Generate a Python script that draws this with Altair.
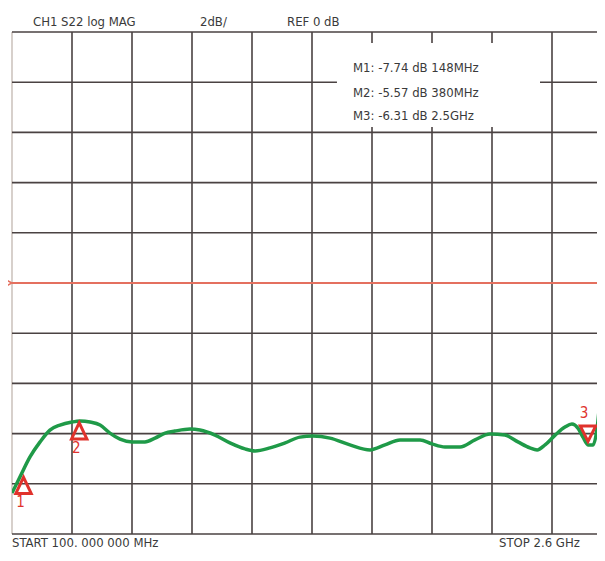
import altair as alt
import pandas as pd

# ---- data ----
freq_mhz = [100, 133, 175, 217, 258, 300, 350, 383, 425, 467, 508, 550, 600, 654, 696,
            738, 779, 842, 883, 946, 1008, 1071, 1113, 1175, 1238, 1300, 1354, 1425,
            1508, 1592, 1654, 1717, 1800, 1850, 1904, 1967, 2029, 2092, 2154, 2208,
            2258, 2288, 2321, 2363, 2404, 2433, 2458, 2479, 2500, 2521, 2538, 2550,
            2563, 2579]
s22_db = [-8.37, -7.73, -6.93, -6.33, -5.86, -5.66, -5.54, -5.50, -5.54, -5.66, -5.98,
          -6.22, -6.33, -6.33, -6.18, -5.98, -5.90, -5.82, -5.86, -6.06, -6.37, -6.61,
          -6.69, -6.57, -6.37, -6.14, -6.10, -6.18, -6.45, -6.65, -6.45, -6.25, -6.25,
          -6.41, -6.53, -6.53, -6.25, -6.02, -6.06, -6.33, -6.57, -6.65, -6.45, -6.06,
          -5.74, -5.62, -5.78, -6.14, -6.45, -6.45, -5.78, -4.66, -3.27, -1.67]

grid_freq = [100, 350, 600, 850, 1100, 1350, 1600, 1850, 2100, 2350]
grid_db = [10, 8, 6, 4, 2, -2, -4, -6, -8, -10]
ref_db = [0]

marker_id = ["1", "2", "3"]
marker_freq = [148, 380, 2500]
marker_db = [-7.74, -5.57, -6.31]
marker_dir = ["up", "up", "down"]

marker_lines = ["M1: -7.74 dB 148MHz", "M2: -5.57 dB 380MHz", "M3: -6.31 dB 2.5GHz"]
header_texts = ["CH1 S22 log MAG", "2dB/", "REF 0 dB"]
footer_texts = ["START 100. 000 000 MHz", "STOP 2.6 GHz"]

# legend box extent (data units)
box_freq = [1454]
box_freq2 = [2300]
box_db = [9.56]
box_db2 = [6.22]

FONT = "DejaVu Sans Condensed, Liberation Sans Narrow, sans-serif"
TXT = "#3a3a3a"
RED = "#e0322c"

xs = alt.Scale(domain=[100, 2537.5], nice=False, zero=False)
ys = alt.Scale(domain=[-10, 10], nice=False, zero=False)

curve_df = pd.DataFrame({"f": freq_mhz, "db": s22_db})
vgrid_df = pd.DataFrame({"f": grid_freq})
hgrid_df = pd.DataFrame({"db": grid_db})
ref_df = pd.DataFrame({"db": ref_db, "f": [freq_mhz[0]]})
mk_df = pd.DataFrame({"id": marker_id, "f": marker_freq, "db": marker_db, "dir": marker_dir})
box_df = pd.DataFrame({"f": box_freq, "f2": box_freq2, "db": box_db, "db2": box_db2})

vgrid = alt.Chart(vgrid_df).mark_rule(strokeWidth=1.6).encode(
    x=alt.X("f:Q", scale=xs, axis=None),
    color=alt.condition(alt.datum.f == 100, alt.value("#cdc5bf"), alt.value("#4a4242")),
)
hgrid = alt.Chart(hgrid_df).mark_rule(strokeWidth=1.6, color="#4a4242").encode(
    y=alt.Y("db:Q", scale=ys, axis=None),
)
ref = alt.Chart(ref_df).mark_rule(strokeWidth=2, color="#e4705f").encode(
    y=alt.Y("db:Q", scale=ys, axis=None),
)
ref_arrow = alt.Chart(ref_df).mark_point(
    shape="triangle-right", filled=False, size=40, strokeWidth=1.5, opacity=1,
    color="#e4705f", xOffset=-3, clip=False
).encode(x=alt.X("f:Q", scale=xs, axis=None), y=alt.Y("db:Q", scale=ys, axis=None))

box = alt.Chart(box_df).mark_rect(fill="white").encode(
    x=alt.X("f:Q", scale=xs, axis=None), x2="f2:Q",
    y=alt.Y("db:Q", scale=ys, axis=None), y2="db2:Q",
)

curve = alt.Chart(curve_df).mark_line(
    color="#1f9a48", strokeWidth=3.5, interpolate="monotone", clip=True
).encode(x=alt.X("f:Q", scale=xs, axis=None), y=alt.Y("db:Q", scale=ys, axis=None))

markers = alt.Chart(mk_df).mark_point(
    filled=False, size=260, strokeWidth=3, color=RED, opacity=1
).encode(
    x=alt.X("f:Q", scale=xs, axis=None),
    y=alt.Y("db:Q", scale=ys, axis=None),
    shape=alt.Shape("dir:N", scale=alt.Scale(domain=["up", "down"],
                    range=["M-0.95,2L0.95,2L0,0Z", "M-0.95,-1.9L0.95,-1.9L0,0Z"]), legend=None),
)
labels_up = alt.Chart(mk_df).transform_filter(alt.datum.dir == "up").mark_text(
    font=FONT, fontSize=15, color=RED, dy=25, dx=-3
).encode(x=alt.X("f:Q", scale=xs, axis=None), y=alt.Y("db:Q", scale=ys, axis=None), text="id:N")
labels_dn = alt.Chart(mk_df).transform_filter(alt.datum.dir == "down").mark_text(
    font=FONT, fontSize=15, color=RED, dy=-28, dx=-4
).encode(x=alt.X("f:Q", scale=xs, axis=None), y=alt.Y("db:Q", scale=ys, axis=None), text="id:N")


def label(txt, px, py, size=13):
    return alt.Chart(pd.DataFrame({"t": [txt]})).mark_text(
        font=FONT, fontSize=size, color=TXT, align="left", baseline="alphabetic"
    ).encode(x=alt.value(px), y=alt.value(py), text="t:N")


texts = [
    label(header_texts[0], 21, -6),
    label(header_texts[1], 188, -6),
    label(header_texts[2], 275, -6),
    label(footer_texts[0], 0, 515),
    label(footer_texts[1], 487, 515),
    label(marker_lines[0], 341, 40),
    label(marker_lines[1], 341, 65),
    label(marker_lines[2], 341, 88),
]

chart = alt.layer(
    vgrid, hgrid, ref, ref_arrow, box, curve, markers, labels_up, labels_dn, *texts
).properties(
    width=585, height=502,
    padding={"left": 4, "top": 24, "right": 0, "bottom": 19},
    autosize=alt.AutoSizeParams(type="none"),
    background="white",
).configure_view(stroke=None)

chart.save("out.html", embed_options={"renderer": "svg", "actions": False})
